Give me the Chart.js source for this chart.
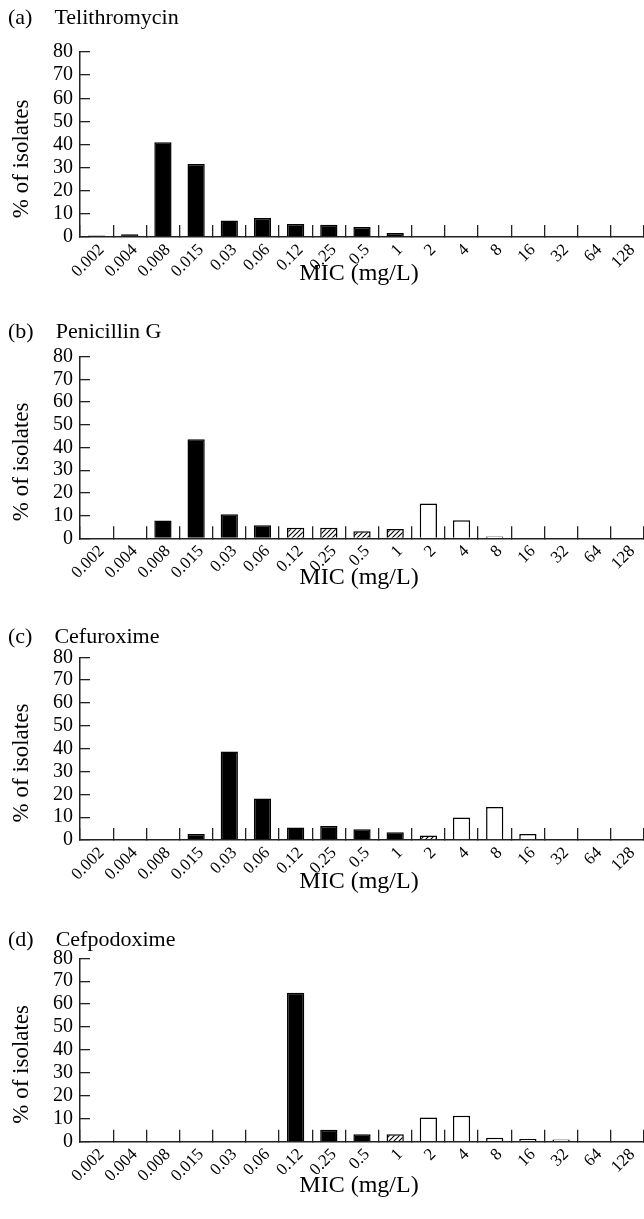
<!DOCTYPE html>
<html>
<head>
<meta charset="utf-8">
<script src="https://cdn.jsdelivr.net/npm/chart.js@4/dist/chart.umd.min.js"></script>
<style>
html,body{margin:0;padding:0;background:#fff;width:644px;height:1219px;overflow:hidden;position:relative}
canvas{position:absolute;left:0}
</style>
</head>
<body>
<canvas id="pa" width="644" height="305" style="top:0px"></canvas>
<canvas id="pb" width="644" height="305" style="top:305px"></canvas>
<canvas id="pc" width="644" height="305" style="top:610px"></canvas>
<canvas id="pd" width="644" height="304" style="top:915px"></canvas>
<script>
// ---- data ----
const micLabels = ['0.002','0.004','0.008','0.015','0.03','0.06','0.12','0.25','0.5','1','2','4','8','16','32','64','128'];
const yMin = 0, yMax = 80, yStep = 10;
const xTitle = 'MIC (mg/L)';
const yTitle = '% of isolates';
const panelTitles = ['(a)\u2003Telithromycin','(b)\u2003Penicillin G','(c)\u2003Cefuroxime','(d)\u2003Cefpodoxime'];

// susceptible (black), intermediate (hatched), resistant (white)
const telithromycinS = [0.7,1.2,41,31.6,7.1,8.2,5.6,5.3,4.3,1.7,null,null,null,null,null,null,null];
const telithromycinI = [null,null,null,null,null,null,null,null,null,null,null,null,null,null,null,null,null];
const telithromycinR = [null,null,null,null,null,null,null,null,null,null,null,null,null,null,null,null,null];

const penicillinS = [null,null,7.8,43.6,10.6,5.7,null,null,null,null,null,null,null,null,null,null,null];
const penicillinI = [null,null,null,null,null,null,4.7,4.7,3.1,4.1,null,null,null,null,null,null,null];
const penicillinR = [null,null,null,null,null,null,null,null,null,null,15.3,7.9,0.8,null,null,null,null];

const cefuroximeS = [null,null,null,2.6,38.8,18.2,5.5,6.1,4.7,3.4,null,null,null,null,null,null,null];
const cefuroximeI = [null,null,null,null,null,null,null,null,null,null,2.0,null,null,null,null,null,null];
const cefuroximeR = [null,null,null,null,null,null,null,null,null,null,null,9.8,14.5,2.6,null,null,null];

const cefpodoximeS = [null,null,null,null,null,null,65.0,5.2,3.2,null,null,null,null,null,null,null,null];
const cefpodoximeI = [null,null,null,null,null,null,null,null,null,3.2,null,null,null,null,null,null,null];
const cefpodoximeR = [null,null,null,null,null,null,null,null,null,null,10.6,11.3,1.7,1.2,1.0,null,null];

// ---- styling / layout ----
const FONT = "'Liberation Serif','Times New Roman',serif";
function hatchPattern(){
  const s = 4.5;
  const c = document.createElement('canvas'); c.width = 5; c.height = 5;
  const g = c.getContext('2d');
  const n = 5;
  g.fillStyle = '#fff'; g.fillRect(0,0,n,n);
  g.strokeStyle = '#000'; g.lineWidth = 1.1;
  g.beginPath();
  g.moveTo(-1,n+1); g.lineTo(n+1,-1);
  g.moveTo(-1,1); g.lineTo(1,-1);
  g.moveTo(n-1,n+1); g.lineTo(n+1,n-1);
  g.stroke();
  return g.createPattern(c,'repeat');
}
const hatch = hatchPattern();

const panels = [
  {id:'pa', h:305, plotTop:52,   plotBottom:237,   titleY:18, xlabelY:274, S:telithromycinS, I:telithromycinI, R:telithromycinR},
  {id:'pb', h:305, plotTop:51.7, plotBottom:233.3, titleY:27, xlabelY:273, S:penicillinS,    I:penicillinI,    R:penicillinR},
  {id:'pc', h:305, plotTop:47.3, plotBottom:230,   titleY:27, xlabelY:272, S:cefuroximeS,    I:cefuroximeI,    R:cefuroximeR},
  {id:'pd', h:304, plotTop:43.3, plotBottom:226.7, titleY:25, xlabelY:271, S:cefpodoximeS,   I:cefpodoximeI,   R:cefpodoximeR}
];

const titleFont = 22, titleLH = 1.2;
const xTitleFont = 24, yTitleFont = 23, axisTitleLH = 1.2;

panels.forEach((p, k) => {
  const tHalf = titleFont*titleLH/2;
  const xtHalf = xTitleFont*axisTitleLH/2;
  const common = {borderColor:'#000', borderWidth:1.5, barPercentage:0.52, categoryPercentage:1.0};
  new Chart(document.getElementById(p.id), {
    type: 'bar',
    data: {
      labels: micLabels,
      datasets: [
        Object.assign({label:'S', data:p.S, backgroundColor:'#000'}, common),
        Object.assign({label:'I', data:p.I, backgroundColor:hatch}, common),
        Object.assign({label:'R', data:p.R, backgroundColor:'#fff'}, common)
      ]
    },
    options: {
      responsive:false, animation:false, devicePixelRatio:1,
      layout:{padding:{left:8, right:0, top:0, bottom:0}},
      plugins:{
        legend:{display:false}, tooltip:{enabled:false},
        title:{display:true, text:panelTitles[k], align:'start', color:'#000',
          font:{family:FONT, size:titleFont, weight:'normal', lineHeight:titleLH},
          padding:{top:p.titleY - tHalf, bottom:p.plotTop - p.titleY - tHalf}}
      },
      scales:{
        x:{
          stacked:true, offset:true,
          grid:{display:true, drawOnChartArea:false, drawTicks:true, tickLength:-12, offset:true, color:'#222', lineWidth:1.3},
          border:{display:true, color:'#222', width:1.5},
          ticks:{autoSkip:false, maxRotation:45, minRotation:45, padding:15, labelOffset:5, color:'#000',
            font:{family:FONT, size:17}},
          title:{display:true, text:xTitle + '\u00a0', color:'#000', font:{family:FONT, size:xTitleFont, lineHeight:axisTitleLH},
            padding:{top:0, bottom:p.h - p.xlabelY - xtHalf}},
          afterFit:(s)=>{ s.height = p.h - p.plotBottom; s.paddingLeft = 0; s.paddingRight = 0; }
        },
        y:{
          stacked:true, min:yMin, max:yMax,
          grid:{display:true, drawOnChartArea:false, drawTicks:true, tickLength:-10, color:'#222', lineWidth:1.3},
          border:{display:true, color:'#222', width:1.5},
          ticks:{stepSize:yStep, autoSkip:false, padding:17, color:'#000', font:{family:FONT, size:20}},
          title:{display:true, text:yTitle + '\u00a0\u00a0\u00a0\u00a0\u00a0', color:'#000', font:{family:FONT, size:yTitleFont, lineHeight:axisTitleLH},
            padding:{top:0, bottom:0}},
          afterFit:(s)=>{ s.width = 72; s.paddingTop = 0; s.paddingBottom = 0; }
        }
      }
    }
  });
});
</script>
</body>
</html>
